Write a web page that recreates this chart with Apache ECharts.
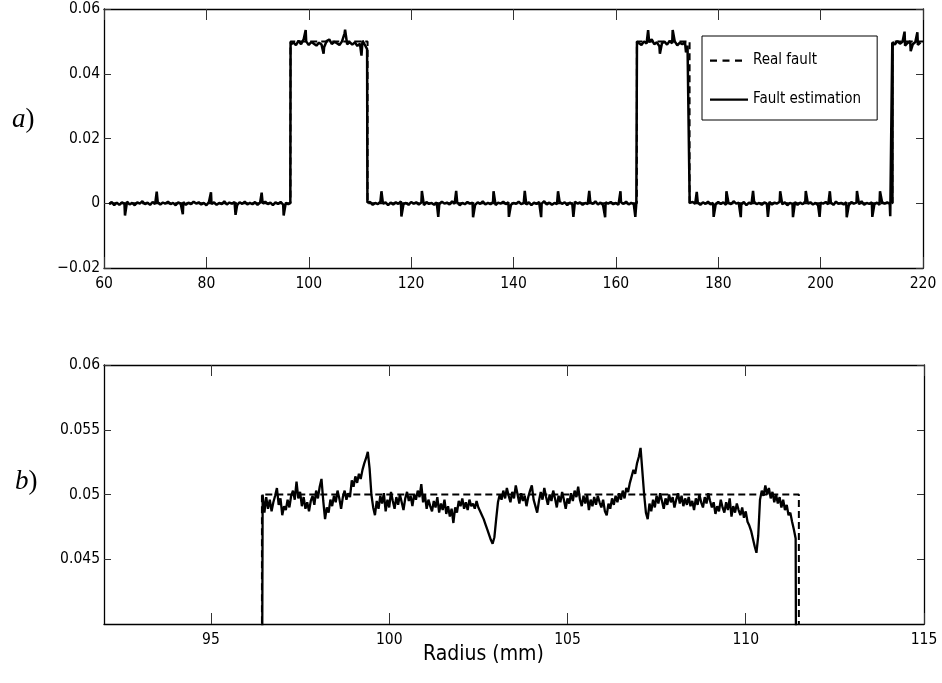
<!DOCTYPE html>
<html>
<head>
<meta charset="utf-8">
<script src="https://cdn.jsdelivr.net/npm/echarts@6/dist/echarts.min.js"></script>
<style>html,body{margin:0;padding:0;background:#fff}#c{width:942px;height:683px}</style>
</head>
<body>
<div id="c"></div>
<script>
// ---------- DATA ----------
// Panel a): fault estimation sampled every 0.5 mm starting at 61.0 mm
const topStart = 61.0;
const topStep = 0.5;
const topEstimate = [
  -0.0003, 0.0004, -0.0006, 0.0002, -0.0005, 0.0003, -0.0002, 0.0005, -0.0004, 0.0001, -0.0006, 0.0003, -0.0001, 0.0006, -0.0003, 0.0002, -0.0005, 0.0004, -0.0002, 0.0003,
  -0.0004, 0.0002, -0.0001, 0.0005, -0.0003, 0.0001, -0.0006, 0.0003, -0.0002, 0.0004, -0.0005, 0.0002, -0.0003, 0.0005, -0.0001, 0.0003, -0.0004, 0.0001, -0.0006, 0.0004,
  -0.0002, 0.0003, -0.0005, 0.0001, -0.0003, 0.0006, -0.0004, 0.0002, -0.0001, 0.0004, -0.0006, 0.0003, -0.0002, 0.0005, -0.0004, 0.0001, -0.0003, 0.0004, -0.0005, 0.0002,
  -0.0001, 0.0005, -0.0003, 0.0002, -0.0006, 0.0003, -0.0002, 0.0004, -0.0004, 0.0001, -0.0003, 0.0490, 0.0497, 0.0488, 0.0502, 0.0491, 0.0506, 0.0500, 0.0489, 0.0498,
  0.0493, 0.0487, 0.0496, 0.0490, 0.0482, 0.0501, 0.0506, 0.0492, 0.0499, 0.0494, 0.0489, 0.0500, 0.0525, 0.0491, 0.0498, 0.0490, 0.0497, 0.0486, 0.0493, 0.0502,
  0.0488, -0.0002, 0.0004, -0.0005, 0.0001, -0.0003, 0.0005, -0.0001, 0.0003, -0.0006, 0.0002, -0.0004, 0.0003, -0.0002, 0.0006, -0.0003, 0.0001, -0.0005, 0.0004, -0.0001,
  0.0003, -0.0004, 0.0002, -0.0006, 0.0004, -0.0002, 0.0001, -0.0005, 0.0003, -0.0003, 0.0005, -0.0001, 0.0002, -0.0004, 0.0006, -0.0002, 0.0003, -0.0006, 0.0001, -0.0003,
  0.0004, -0.0001, 0.0002, -0.0005, 0.0003, -0.0002, 0.0006, -0.0004, 0.0001, -0.0003, 0.0004, -0.0006, 0.0002, -0.0001, 0.0005, -0.0003, 0.0003, -0.0005, 0.0001, -0.0002,
  0.0005, -0.0003, 0.0001, -0.0004, 0.0003, -0.0006, 0.0002, -0.0002, 0.0004, -0.0001, 0.0006, -0.0004, 0.0002, -0.0005, 0.0001, -0.0003, 0.0005, -0.0002, 0.0003, -0.0006,
  0.0002, -0.0004, 0.0005, -0.0001, 0.0003, -0.0005, 0.0001, -0.0003, 0.0004, -0.0002, 0.0006, -0.0004, 0.0002, -0.0006, 0.0003, -0.0001, 0.0004, -0.0003, 0.0001, -0.0005,
  0.0003, -0.0002, 0.0005, -0.0004, 0.0001, -0.0003, 0.0002, 0.0495, 0.0489, 0.0500, 0.0493, 0.0498, 0.0506, 0.0491, 0.0497, 0.0485, 0.0494, 0.0499, 0.0490, 0.0501,
  0.0494, 0.0500, 0.0488, 0.0496, 0.0491, 0.0498, 0.0487, -0.0003, 0.0004, -0.0001, 0.0002, -0.0005, 0.0003, -0.0002, 0.0005, -0.0004, 0.0001, -0.0003, 0.0004,
  -0.0002, 0.0003, -0.0005, 0.0001, -0.0003, 0.0006, -0.0001, 0.0002, -0.0004, 0.0004, -0.0006, 0.0002, -0.0002, 0.0005, -0.0003, 0.0001, -0.0005, 0.0003, -0.0001, 0.0004,
  -0.0004, 0.0002, -0.0001, 0.0005, -0.0003, 0.0003, -0.0006, 0.0001, -0.0002, 0.0004, -0.0005, 0.0002, -0.0003, 0.0006, -0.0001, 0.0003, -0.0004, 0.0001, -0.0006, 0.0002,
  -0.0001, 0.0004, -0.0003, 0.0002, -0.0005, 0.0005, -0.0002, 0.0001, -0.0004, 0.0003, -0.0006, 0.0004, -0.0001, 0.0002, -0.0003, 0.0006, -0.0005, 0.0001, -0.0002, 0.0003,
  -0.0003, 0.0002, -0.0005, 0.0004, -0.0001, 0.0003, -0.0002, 0.0496, 0.0490, 0.0501, 0.0493, 0.0499, 0.0487, 0.0495, 0.0500, 0.0491, 0.0498, 0.0489, 0.0497
];
// Panel a): samples on the steep fault edges [radius, value]
const topEdges = [
  [96.40, 0.0001], [96.45, 0.0497], [111.40, 0.0476], [111.46, 0.0002],
  [164.06, -0.0001], [164.12, 0.0499], [174.36, 0.0482], [174.42, 0.0001],
  [214.03, 0.0000], [214.08, 0.0498]
];
// Panel a): short periodic spikes [radius, value]
const topSpikes = [
  [64.1, -0.0038], [70.3, 0.0036], [75.4, -0.0034], [80.9, 0.0034], [85.7, -0.0036], [90.8, 0.0033], [95.1, -0.0038],
  [99.4, 0.0535], [102.9, 0.0462], [107.1, 0.0536], [110.3, 0.0456],
  [114.2, 0.0037], [118.1, -0.0041], [122.1, 0.0038], [125.3, -0.0042], [128.8, 0.0038], [132.1, -0.0043], [136.1, 0.0037],
  [139.1, -0.0042], [142.2, 0.0038], [145.4, -0.0043], [148.7, 0.0037], [151.7, -0.0042], [154.8, 0.0038], [157.9, -0.0043],
  [160.9, 0.0037], [163.8, -0.0042],
  [166.3, 0.0535], [168.6, 0.0462], [171.1, 0.0535], [173.7, 0.0466],
  [175.8, 0.0035], [179.1, -0.0042], [181.6, 0.0037], [184.4, -0.0043], [186.8, 0.0038], [189.7, -0.0042], [192.1, 0.0037],
  [194.6, -0.0043], [197.1, 0.0038], [199.8, -0.0042], [201.8, 0.0037], [205.1, -0.0043], [207.1, 0.0038], [210.1, -0.0042],
  [211.6, 0.0037], [213.6, -0.0040],
  [216.4, 0.0530], [217.6, 0.0470], [218.9, 0.0528]
];
// Real fault (both panels) [radius, value]
const realFault = [
  [61.0, 0], [96.43, 0], [96.43, 0.05], [111.49, 0.05], [111.49, 0],
  [164.1, 0], [164.1, 0.05], [174.4, 0.05], [174.4, 0],
  [214.02, 0], [214.02, 0.05], [220.5, 0.05]
];
// Panel b): detailed fault estimation every 0.05 mm from 96.40 mm
const zoomStart = 96.40;
const zoomStep = 0.05;
const zoomEstimate = [
  0, 0.0500, 0.0486, 0.0498, 0.0489, 0.0496, 0.0487, 0.0494, 0.0499, 0.0505, 0.0492, 0.0497, 0.0484, 0.0491, 0.0488, 0.0496, 0.0490, 0.0499, 0.0503, 0.0496,
  0.0510, 0.0497, 0.0502, 0.0491, 0.0498, 0.0489, 0.0494, 0.0487, 0.0495, 0.0499, 0.0492, 0.0503, 0.0497, 0.0506, 0.0512, 0.0495, 0.0481, 0.0490, 0.0486, 0.0496,
  0.0491, 0.0499, 0.0494, 0.0503, 0.0497, 0.0489, 0.0498, 0.0503, 0.0496, 0.0501, 0.0498, 0.0511, 0.0506, 0.0514, 0.0509, 0.0516, 0.0512, 0.0519, 0.0524, 0.0528,
  0.0533, 0.0520, 0.0500, 0.0490, 0.0484, 0.0495, 0.0489, 0.0499, 0.0493, 0.0501, 0.0487, 0.0496, 0.0490, 0.0502, 0.0495, 0.0489, 0.0498, 0.0492, 0.0500, 0.0494,
  0.0488, 0.0497, 0.0502, 0.0495, 0.0499, 0.0491, 0.0500, 0.0496, 0.0503, 0.0498, 0.0508, 0.0494, 0.0500, 0.0489, 0.0496, 0.0491, 0.0487, 0.0495, 0.0490, 0.0498,
  0.0486, 0.0493, 0.0488, 0.0496, 0.0485, 0.0491, 0.0483, 0.0489, 0.0478, 0.0490, 0.0486, 0.0495, 0.0491, 0.0497, 0.0489, 0.0494, 0.0488, 0.0496, 0.0491, 0.0493,
  0.0489, 0.0495, 0.0490, 0.0487, 0.0484, 0.0481, 0.0477, 0.0473, 0.0469, 0.0465, 0.0462, 0.0467, 0.0481, 0.0494, 0.0500, 0.0496, 0.0503, 0.0497, 0.0505, 0.0499,
  0.0494, 0.0502, 0.0497, 0.0507, 0.0500, 0.0493, 0.0501, 0.0495, 0.0499, 0.0491, 0.0498, 0.0503, 0.0507, 0.0496, 0.0491, 0.0486, 0.0495, 0.0502, 0.0496, 0.0505,
  0.0498, 0.0492, 0.0500, 0.0495, 0.0503, 0.0497, 0.0490, 0.0499, 0.0494, 0.0502, 0.0496, 0.0489, 0.0497, 0.0493, 0.0501, 0.0495, 0.0503, 0.0498, 0.0506, 0.0496,
  0.0491, 0.0499, 0.0493, 0.0500, 0.0488, 0.0496, 0.0491, 0.0498, 0.0492, 0.0499, 0.0494, 0.0490, 0.0496, 0.0487, 0.0484, 0.0493, 0.0489, 0.0497, 0.0492, 0.0499,
  0.0494, 0.0501, 0.0496, 0.0503, 0.0497, 0.0505, 0.0502, 0.0509, 0.0514, 0.0519, 0.0516, 0.0524, 0.0529, 0.0536, 0.0518, 0.0500, 0.0486, 0.0481, 0.0493, 0.0487,
  0.0496, 0.0490, 0.0499, 0.0493, 0.0501, 0.0495, 0.0489, 0.0497, 0.0492, 0.0500, 0.0494, 0.0498, 0.0490, 0.0496, 0.0501, 0.0493, 0.0499, 0.0491, 0.0497, 0.0492,
  0.0498, 0.0491, 0.0495, 0.0488, 0.0497, 0.0492, 0.0500, 0.0494, 0.0490, 0.0498, 0.0493, 0.0501, 0.0495, 0.0490, 0.0494, 0.0485, 0.0491, 0.0487, 0.0496, 0.0490,
  0.0486, 0.0494, 0.0488, 0.0497, 0.0483, 0.0491, 0.0486, 0.0493, 0.0488, 0.0484, 0.0490, 0.0482, 0.0487, 0.0479, 0.0476, 0.0472, 0.0466, 0.0460, 0.0455, 0.0468,
  0.0496, 0.0503, 0.0499, 0.0507, 0.0500, 0.0505, 0.0497, 0.0502, 0.0494, 0.0500, 0.0493, 0.0498, 0.0490, 0.0496, 0.0488, 0.0492, 0.0484, 0.0486, 0.0479, 0.0473,
  0.0466, 0
];
// Tick values
const topXTicks = [60, 80, 100, 120, 140, 160, 180, 200, 220];
const topYTicks = [-0.02, 0, 0.02, 0.04, 0.06];
const zoomXTicks = [95, 100, 105, 110, 115];
const zoomYTicks = [0.045, 0.05, 0.055, 0.06];
const legendNames = ['Real fault', 'Fault estimation'];

// ---------- BUILD ----------
const topSeriesData = topEstimate.map((v, i) => [topStart + i * topStep, v])
  .concat(topEdges, topSpikes)
  .sort((a, b) => a[0] - b[0]);
const zoomSeriesData = zoomEstimate.map((v, i) => [zoomStart + i * zoomStep, v]);

const FONT = "'Liberation Sans Narrow', 'Arial Narrow', 'DejaVu Sans Condensed', 'Liberation Sans', sans-serif";
const SERIF = "'Liberation Serif', 'DejaVu Serif', serif";
const TICK_FS = 15.5;
const fmt = v => String(+(+v).toFixed(4)).replace('-', '\u2212');

function xAx(gridIndex, min, max, ticks, pos, showLabel) {
  return {
    type: 'value', gridIndex, min, max, position: pos,
    axisLine: { show: true, onZero: false, lineStyle: { color: '#000', width: 1.3 } },
    axisTick: { show: true, inside: true, length: 11, customValues: ticks, lineStyle: { color: '#333', width: 1 } },
    axisLabel: { show: showLabel, customValues: ticks, margin: 8, color: '#000', fontSize: TICK_FS, fontFamily: FONT, formatter: fmt },
    splitLine: { show: false }
  };
}
function yAx(gridIndex, min, max, ticks, pos, showLabel) {
  return {
    type: 'value', gridIndex, min, max, position: pos,
    axisLine: { show: true, onZero: false, lineStyle: { color: '#000', width: 1.3 } },
    axisTick: { show: true, inside: true, length: 7, customValues: ticks, lineStyle: { color: '#333', width: 1 } },
    axisLabel: { show: showLabel, customValues: ticks, margin: 4, color: '#000', fontSize: TICK_FS, fontFamily: FONT, formatter: fmt },
    splitLine: { show: false }
  };
}

const ICON_DASHED = 'path://M0,0L0,0ZM38,12L38,12ZM0,4.9h7v2.3h-7zM12.5,4.9h7v2.3h-7zM25,4.9h7v2.3h-7z';
const ICON_SOLID = 'path://M0,0L0,0ZM38,12L38,12ZM0,4.9h38v2.3h-38z';

const chart = echarts.init(document.getElementById('c'), null, { renderer: 'canvas' });
chart.setOption({
  animation: false,
  backgroundColor: '#fff',
  textStyle: { fontFamily: FONT },
  grid: [
    { left: 104, top: 9, width: 819, height: 259 },
    { left: 104, top: 365, width: 820, height: 259 }
  ],
  xAxis: [
    xAx(0, 60, 220, topXTicks, 'bottom', true),
    xAx(0, 60, 220, topXTicks, 'top', false),
    xAx(1, 92, 115, zoomXTicks, 'bottom', true),
    xAx(1, 92, 115, zoomXTicks, 'top', false)
  ],
  yAxis: [
    yAx(0, -0.02, 0.06, topYTicks, 'left', true),
    yAx(0, -0.02, 0.06, topYTicks, 'right', false),
    yAx(1, 0.04, 0.06, zoomYTicks, 'left', true),
    yAx(1, 0.04, 0.06, zoomYTicks, 'right', false)
  ],
  legend: {
    data: [
      { name: legendNames[0], icon: ICON_DASHED },
      { name: legendNames[1], icon: ICON_SOLID }
    ],
    orient: 'vertical',
    left: 702, top: 36,
    padding: [17, 16, 13, 8],
    itemGap: 24,
    itemWidth: 38, itemHeight: 12,
    symbolKeepAspect: false,
    borderColor: '#000', borderWidth: 1,
    backgroundColor: '#fff',
    itemStyle: { color: '#000' },
    textStyle: { color: '#000', fontSize: 15, fontFamily: FONT },
    selectedMode: false
  },
  series: [
    { name: legendNames[0], type: 'line', xAxisIndex: 0, yAxisIndex: 0, data: realFault, showSymbol: false, symbol: 'none',
      lineStyle: { color: '#000', width: 2, type: [7, 4] }, itemStyle: { color: '#000' }, z: 2 },
    { name: legendNames[1], type: 'line', xAxisIndex: 0, yAxisIndex: 0, data: topSeriesData, showSymbol: false, symbol: 'none',
      lineStyle: { color: '#000', width: 2.5 }, itemStyle: { color: '#000' }, z: 3 },
    { name: legendNames[0], type: 'line', xAxisIndex: 2, yAxisIndex: 2, data: realFault, showSymbol: false, symbol: 'none',
      lineStyle: { color: '#000', width: 2, type: [7, 4] }, itemStyle: { color: '#000' }, z: 2 },
    { name: legendNames[1], type: 'line', xAxisIndex: 2, yAxisIndex: 2, data: zoomSeriesData, showSymbol: false, symbol: 'none',
      lineStyle: { color: '#000', width: 2.3 }, itemStyle: { color: '#000' }, z: 3 }
  ],
  graphic: [
    { type: 'text', left: 12, top: 106, style: { text: '{i|a}{n|)}', rich: {
        i: { fontStyle: 'italic', fontFamily: SERIF, fontSize: 27, fill: '#000' },
        n: { fontFamily: SERIF, fontSize: 27, fill: '#000' } } } },
    { type: 'text', left: 15, top: 468, style: { text: '{i|b}{n|)}', rich: {
        i: { fontStyle: 'italic', fontFamily: SERIF, fontSize: 27, fill: '#000' },
        n: { fontFamily: SERIF, fontSize: 27, fill: '#000' } } } },
    { type: 'text', left: 423, top: 644, style: { text: 'Radius (mm)', fontFamily: FONT, fontSize: 21, fill: '#000' } }
  ]
});
</script>
</body>
</html>
